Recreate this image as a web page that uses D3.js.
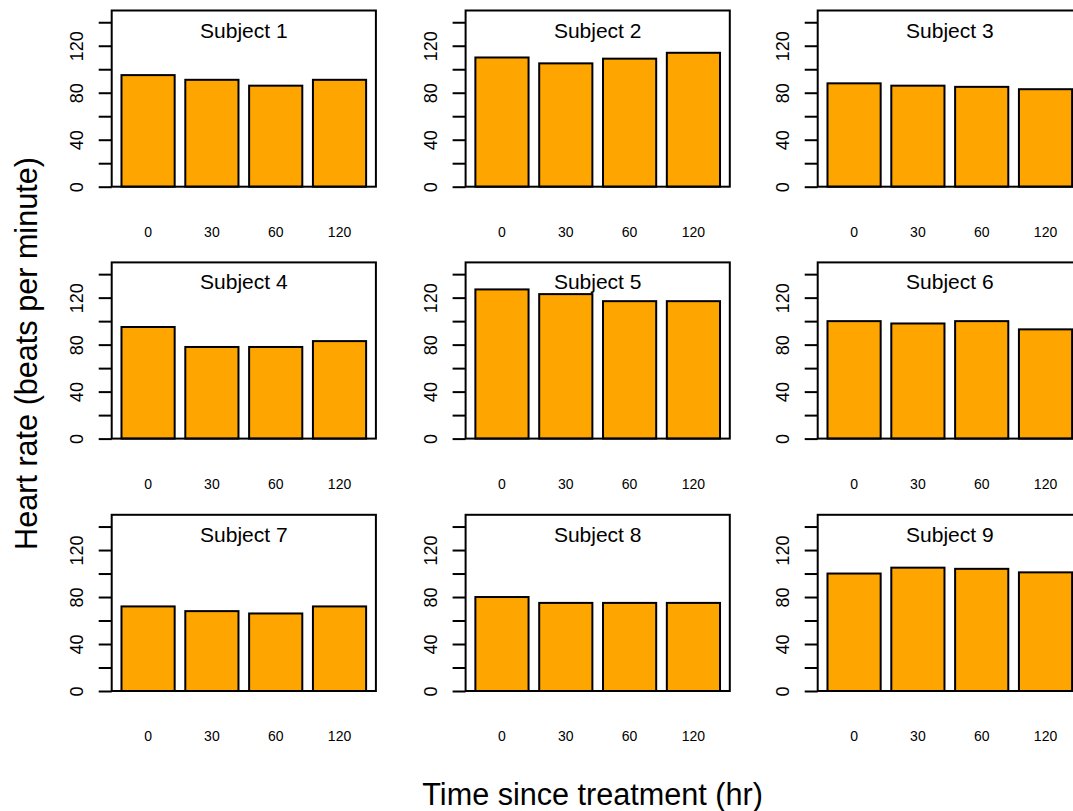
<!DOCTYPE html>
<html>
<head>
<meta charset="utf-8">
<script src="https://cdn.jsdelivr.net/npm/d3@7"></script>
<style>
  html, body { margin: 0; padding: 0; background: #fff; }
  svg { display: block; font-family: "Liberation Sans", Arial, Helvetica, sans-serif; }
</style>
</head>
<body>
<svg id="chart" width="1073" height="811"></svg>
<script>
// Heart rate (beats per minute) at each time point, one row per subject
const times = ["0", "30", "60", "120"];
const subjects = ["Subject 1", "Subject 2", "Subject 3", "Subject 4", "Subject 5",
                  "Subject 6", "Subject 7", "Subject 8", "Subject 9"];
const heartRates = [
  [95, 91, 86, 91],
  [110, 105, 109, 114],
  [88, 86, 85, 83],
  [95, 78, 78, 83],
  [127, 123, 117, 117],
  [100, 98, 100, 93],
  [72, 68, 66, 72],
  [80, 75, 75, 75],
  [100, 105, 104, 101]
];
const yTicks = [0, 20, 40, 60, 80, 100, 120, 140];
const yLabelled = [0, 40, 80, 120];
const yMax = 150;

const xLabel = "Time since treatment (hr)";
const yLabel = "Heart rate (beats per minute)";

// panel grid geometry
const colLefts = [111.7, 465.6, 817.7];
const rowTops = [10.5, 262.4, 514.8];
const boxW = 264.2, boxH = 176.2;
const lw = 2;

const svg = d3.select("#chart");

subjects.forEach((name, i) => {
  const r = Math.floor(i / 3), c = i % 3;
  const left = colLefts[c], top = rowTops[r];
  const g = svg.append("g").attr("transform", `translate(${left},${top})`);

  // x layout as in a base barplot: bars of width 1 with 0.2 gaps, axis padded 4%
  const lo = 0.2, hi = 0.2 + 1.2 * times.length - 0.2;
  const pad = (hi - lo) * 0.04;
  const xLin = d3.scaleLinear().domain([lo - pad, hi + pad]).range([0, boxW]);
  const x = d3.scaleBand().domain(times)
    .range([xLin(lo), xLin(hi)]).paddingInner(0.2 / 1.2).paddingOuter(0);
  const y = d3.scaleLinear().domain([0, yMax]).range([boxH, 0]);

  const vals = heartRates[i];
  g.selectAll("rect.bar").data(times).join("rect")
    .attr("class", "bar")
    .attr("x", d => x(d))
    .attr("width", x.bandwidth())
    .attr("y", (d, j) => y(vals[j]))
    .attr("height", (d, j) => y(0) - y(vals[j]))
    .attr("fill", "#FFA500")
    .attr("stroke", "#000")
    .attr("stroke-width", lw);

  // frame
  g.append("rect")
    .attr("x", 0).attr("y", 0).attr("width", boxW).attr("height", boxH)
    .attr("fill", "none").attr("stroke", "#000").attr("stroke-width", lw);

  // y axis
  const ya = g.append("g").call(
    d3.axisLeft(y).tickValues(yTicks).tickSize(13).tickSizeOuter(0)
      .tickFormat(d => yLabelled.includes(d) ? d : ""));
  ya.attr("font-size", 18).attr("font-family", "\"Liberation Sans\", Arial, sans-serif");
  ya.select(".domain").remove();
  ya.selectAll(".tick line").attr("stroke", "#000").attr("stroke-width", lw);
  ya.selectAll(".tick text")
    .attr("x", null).attr("y", null).attr("dy", null)
    .attr("text-anchor", "middle")
    .attr("transform", "translate(-28.4,0) rotate(-90)")
    .attr("fill", "#000")
    .style("font-size", "18px");

  // x axis labels (no line)
  const xa = g.append("g").attr("transform", `translate(0,${boxH})`)
    .call(d3.axisBottom(x).tickSize(0));
  xa.attr("font-size", 14).attr("font-family", "\"Liberation Sans\", Arial, sans-serif");
  xa.select(".domain").remove();
  xa.selectAll(".tick text")
    .attr("y", 50.3).attr("dy", null)
    .attr("fill", "#000")
    .style("font-size", "14px");

  // panel title
  g.append("text")
    .attr("x", boxW / 2).attr("y", 27)
    .attr("text-anchor", "middle")
    .style("font-size", "21px")
    .attr("fill", "#000")
    .text(name);
});

// outer axis titles
svg.append("text")
  .attr("x", 592.6).attr("y", 805)
  .attr("text-anchor", "middle")
  .style("font-size", "30.6px")
  .attr("fill", "#000")
  .text(xLabel);

svg.append("text")
  .attr("transform", "translate(36.7,353.5) rotate(-90)")
  .attr("text-anchor", "middle")
  .style("font-size", "30.6px")
  .attr("fill", "#000")
  .text(yLabel);
</script>
</body>
</html>
